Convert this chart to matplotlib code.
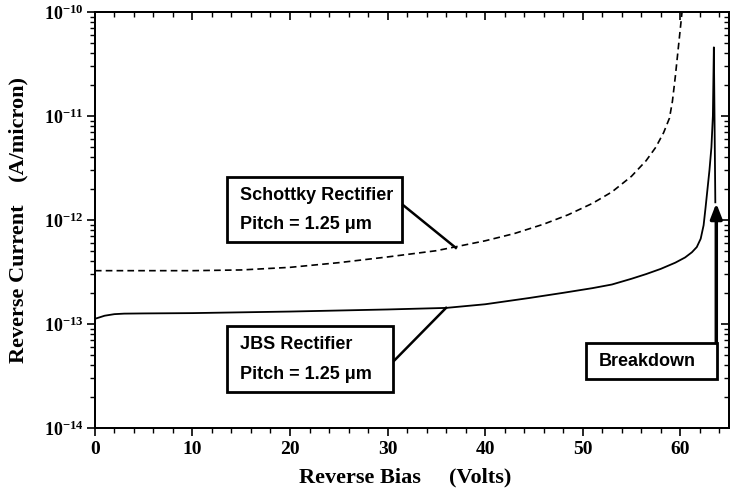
import numpy as np
import matplotlib.pyplot as plt
from matplotlib.patches import Rectangle
from matplotlib.ticker import LogLocator, FuncFormatter, MultipleLocator, NullFormatter

plt.rcParams['mathtext.fontset'] = 'custom'
plt.rcParams['mathtext.bf'] = 'Liberation Serif:bold'
plt.rcParams['mathtext.rm'] = 'Liberation Serif:bold'

# data (current as log10 of A/micron)
jbs_v = [0, 0.5, 1, 2, 3, 5, 10, 20, 30, 36, 40, 44.5, 48, 51, 53, 55, 56.5, 58,
         59.5, 60.5, 61.2, 61.7, 62.1, 62.4, 62.6, 62.8, 63.0, 63.2, 63.35,
         63.45, 63.6]
jbs_log = [-12.95, -12.935, -12.92, -12.905, -12.9, -12.898, -12.895, -12.88,
           -12.86, -12.845, -12.81, -12.75, -12.70, -12.655, -12.62, -12.565,
           -12.52, -12.47, -12.41, -12.36, -12.31, -12.26, -12.18, -12.05,
           -11.88, -11.70, -11.52, -11.30, -11.0, -10.34, -11.83]

sch_v = [0, 5, 10, 15, 20, 25, 30, 35, 40, 43, 46, 48.5, 51, 53, 55, 56.5,
         57.5, 58.3, 58.9, 59.2, 59.5, 59.8, 60.1, 60.35]
sch_log = [-12.487, -12.487, -12.487, -12.48, -12.455, -12.41, -12.355,
           -12.295, -12.20, -12.13, -12.04, -11.95, -11.84, -11.73, -11.58,
           -11.43, -11.30, -11.16, -11.02, -10.86, -10.62, -10.35, -10.08,
           -9.85]

x_ticks = [0, 10, 20, 30, 40, 50, 60]
y_ticks = [1e-14, 1e-13, 1e-12, 1e-11, 1e-10]

jbs_i = 10.0 ** np.array(jbs_log)
sch_i = 10.0 ** np.array(sch_log)

fig = plt.figure(figsize=(7.3, 4.92), dpi=100)
ax = fig.add_axes([0.130, 0.130, 0.8686, 0.8456])

ax.plot(jbs_v, jbs_i, color='black', lw=1.3)
ax.plot(sch_v, sch_i, color='black', lw=1.2, ls=(0, (4, 2.5)))

ax.set_yscale('log')
ax.set_xlim(0, 65)
ax.set_ylim(1e-14, 1e-10)

ax.set_xticks(x_ticks)
ax.xaxis.set_minor_locator(MultipleLocator(2))
ax.set_yticks(y_ticks)
ax.yaxis.set_minor_locator(LogLocator(base=10, subs=np.arange(2, 10), numticks=20))
ax.yaxis.set_minor_formatter(NullFormatter())
ax.yaxis.set_major_formatter(FuncFormatter(lambda v, p: r'$\mathbf{10^{%d}}$' % round(np.log10(v))))
ax.tick_params(axis='both', which='major', length=6, width=1.2, labelsize=13, direction='out')
ax.tick_params(axis='both', which='minor', length=3.5, width=1.0, direction='out')
ax.tick_params(axis='x', pad=3, labelsize=14)
ax.tick_params(axis='y', pad=2)
for lab in ax.get_xticklabels():
    lab.set_family('Liberation Serif')
    lab.set_weight('bold')

# inward ticks on the top and right sides (twin axes, own axis only)
axr = ax.twinx()
axr.set_yscale('log')
axr.set_ylim(ax.get_ylim())
axr.set_yticks(y_ticks)
axr.yaxis.set_minor_locator(LogLocator(base=10, subs=np.arange(2, 10), numticks=20))
axr.yaxis.set_minor_formatter(NullFormatter())
axr.tick_params(axis='y', which='both', direction='in', labelright=False)
axr.tick_params(axis='y', which='major', length=6, width=1.2)
axr.tick_params(axis='y', which='minor', length=3.5, width=1.0)

axt = ax.twiny()
axt.set_xlim(ax.get_xlim())
axt.set_xticks(x_ticks)
axt.xaxis.set_minor_locator(MultipleLocator(2))
axt.tick_params(axis='x', which='both', direction='in', labeltop=False)
axt.tick_params(axis='x', which='major', length=6, width=1.2)
axt.tick_params(axis='x', which='minor', length=3.5, width=1.0)

for a in (ax, axr, axt):
    for s in a.spines.values():
        s.set_linewidth(1.2)

ax.set_xlabel('Reverse Bias     (Volts)', family='Liberation Serif', weight='bold', fontsize=16)
ax.set_ylabel('Reverse Current    (A/micron)', family='Liberation Serif', weight='bold', fontsize=16)
ax.xaxis.set_label_coords(0.49, -0.095)
ax.yaxis.set_label_coords(-0.104, 0.5)

box_font = dict(family='Liberation Sans', weight='bold', fontsize=13, va='center', ha='left')

# Schottky box
ax.add_patch(Rectangle((13.5, 6.13e-13), 18.0, 2.59e-12 - 6.13e-13, fill=False, lw=2, zorder=5))
ax.text(14.9, 10**-11.76, 'Schottky Rectifier', **box_font)
ax.text(14.9, 10**-12.04, 'Pitch = 1.25 \u03bcm', **box_font)
ax.plot([31.6, 37.0], [1.39e-12, 5.4e-13], color='black', lw=1.8)

# JBS box
ax.add_patch(Rectangle((13.5, 10**-13.65), 17.1, 10**-13.02 - 10**-13.65, fill=False, lw=2, zorder=5))
ax.text(14.9, 10**-13.20, 'JBS Rectifier', **box_font)
ax.text(14.9, 10**-13.49, 'Pitch = 1.25 \u03bcm', **box_font)
ax.plot([30.7, 36.0], [10**-13.35, 1.43e-13], color='black', lw=1.8)

# Breakdown box and arrow
ax.add_patch(Rectangle((50.3, 10**-13.53), 13.5, 10**-13.18 - 10**-13.53, fill=False, lw=2, zorder=5))
ax.text(51.7, 10**-13.36, 'Breakdown', **box_font)
ax.annotate('', xy=(63.7, 1.45e-12), xytext=(63.7, 10**-13.18),
            arrowprops=dict(arrowstyle='-|>,head_length=0.9,head_width=0.35', color='black', lw=2.5,
                            shrinkA=0, shrinkB=0))

fig.savefig('out.png', dpi=100)
